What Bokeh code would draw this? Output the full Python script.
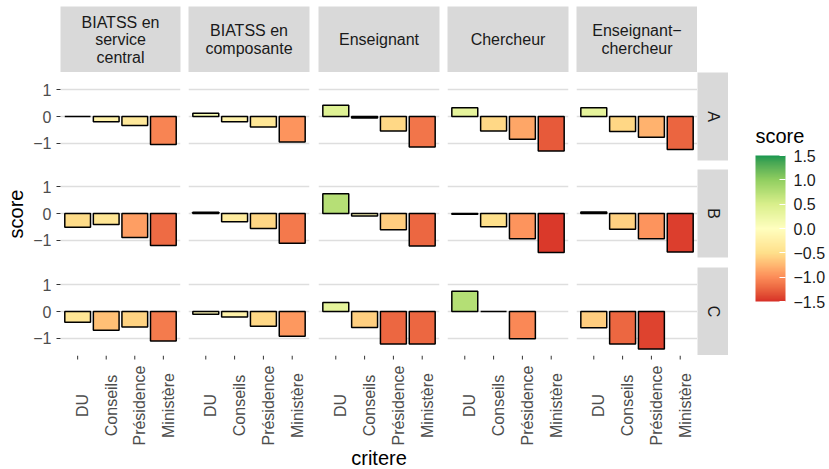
import math
from bokeh.plotting import figure
from bokeh.models import (GridBox, Range1d, FixedTicker, LinearColorMapper, ColorBar,
                          ColumnDataSource, LinearAxis, Grid)
from bokeh.core.properties import value
from bokeh.embed import file_html
from bokeh.resources import INLINE

# ---------------- data ----------------
profiles = ["BIATSS en service central", "BIATSS en composante", "Enseignant",
            "Chercheur", "Enseignant-chercheur"]
strip_labels = ["BIATSS en\nservice\ncentral", "BIATSS en\ncomposante", "Enseignant",
                "Chercheur", "Enseignant\u2212\nchercheur"]
groups = ["A", "B", "C"]
criteres = ["DU", "Conseils", "Présidence", "Ministère"]

# scores per profile (rows of each list follow `profiles`, columns follow `criteres`)
score_A = [[0.00, -0.20, -0.34, -1.05],
           [0.12, -0.20, -0.39, -0.96],
           [0.42, -0.06, -0.54, -1.14],
           [0.33, -0.54, -0.85, -1.29],
           [0.33, -0.56, -0.78, -1.24]]
score_B = [[-0.52, -0.41, -0.90, -1.20],
           [0.05, -0.31, -0.56, -1.12],
           [0.74, -0.09, -0.61, -1.22],
           [-0.03, -0.50, -0.95, -1.46],
           [0.06, -0.59, -0.95, -1.44]]
score_C = [[-0.40, -0.70, -0.58, -1.11],
           [-0.10, -0.21, -0.55, -0.93],
           [0.34, -0.60, -1.22, -1.22],
           [0.76, 0.00, -1.02, None],
           [-0.61, -1.22, -1.41, None]]
scores_by_group = [score_A, score_B, score_C]

palette_stops = ["#d73027", "#fc8d59", "#fee08b", "#ffffbf", "#d9ef8b", "#91cf60", "#1a9850"]
score_limits = [-1.5, 1.5]
y_ticks = [-1, 0, 1]
y_tick_labels = ["\u22121", "0", "1"]
legend_ticks = [-1.5, -1.0, -0.5, 0.0, 0.5, 1.0, 1.5]
legend_tick_labels = ["\u22121.5", "\u22121.0", "\u22120.5", "0.0", "0.5", "1.0", "1.5"]

# ---------------- colour ramp (Lab interpolation, like ggplot) ----------------
Xn, Yn, Zn = 0.95047, 1.0, 1.08883
def _lin(c):
    return c / 12.92 if c <= 0.04045 else ((c + 0.055) / 1.055) ** 2.4
def _gam(c):
    return 12.92 * c if c <= 0.0031308 else 1.055 * c ** (1 / 2.4) - 0.055
def _f(t):
    return t ** (1 / 3) if t > (6 / 29) ** 3 else t / (3 * (6 / 29) ** 2) + 4 / 29
def _finv(t):
    return t ** 3 if t > 6 / 29 else 3 * (6 / 29) ** 2 * (t - 4 / 29)
def to_lab(h):
    r, g, b = [_lin(int(h[i:i + 2], 16) / 255) for i in (1, 3, 5)]
    X = 0.4124 * r + 0.3576 * g + 0.1805 * b
    Y = 0.2126 * r + 0.7152 * g + 0.0722 * b
    Z = 0.0193 * r + 0.1192 * g + 0.9505 * b
    fx, fy, fz = _f(X / Xn), _f(Y / Yn), _f(Z / Zn)
    return (116 * fy - 16, 500 * (fx - fy), 200 * (fy - fz))
def from_lab(L, a, b):
    fy = (L + 16) / 116
    fx = fy + a / 500
    fz = fy - b / 200
    X, Y, Z = Xn * _finv(fx), Yn * _finv(fy), Zn * _finv(fz)
    r = 3.2406 * X - 1.5372 * Y - 0.4986 * Z
    g = -0.9689 * X + 1.8758 * Y + 0.0415 * Z
    bb = 0.0557 * X - 0.2040 * Y + 1.0570 * Z
    conv = lambda c: min(1.0, max(0.0, _gam(min(1.0, max(0.0, c)))))
    return "#%02x%02x%02x" % tuple(int(round(conv(c) * 255)) for c in (r, g, bb))

labs = [to_lab(c) for c in palette_stops]
palette = []
N = 256
for k in range(N):
    s = k / (N - 1) * (len(labs) - 1)
    i = min(int(s), len(labs) - 2)
    u = s - i
    L = [labs[i][j] + (labs[i + 1][j] - labs[i][j]) * u for j in range(3)]
    palette.append(from_lab(*L))
mapper = LinearColorMapper(palette=palette, low=score_limits[0], high=score_limits[1])

# ---------------- layout constants ----------------
FONT_NAME = "Liberation Sans"
FONT = value(FONT_NAME)
FRAME_W = 121
PANEL_H = 88
row_gap = [9, 10, 0]
STRIP_TOP = 6
STRIP_H = 66
RSTRIP_W = 31
XLAB_H = 92
TITLE_H = 20
LEFT0 = 30
col_left = [29, 0, 0, 0, 0]
col_right = [8, 9, 8, 8, 0]
LEG_W = 99
STRIP_BG = "#D9D9D9"
BAR_X, BAR_W, BAR_H = 27, 30, 146

def base_fig(width, height, xr, yr, left=0, right=0, top=0, bottom=0, bg="white"):
    p = figure(width=width, height=height, x_range=xr, y_range=yr,
               toolbar_location=None, output_backend="svg",
               x_axis_location=None, y_axis_location=None,
               min_border=0, min_border_left=left, min_border_right=right,
               min_border_top=top, min_border_bottom=bottom)
    p.grid.visible = False
    p.outline_line_color = None
    p.background_fill_color = bg
    p.border_fill_color = "white"
    return p

children = []
x_pos = [i + 1 for i in range(len(criteres))]

# top strips
for c, lab in enumerate(strip_labels):
    w = col_left[c] + FRAME_W + col_right[c]
    p = base_fig(w, STRIP_TOP + STRIP_H, Range1d(0, 1), Range1d(0, STRIP_H),
                 left=col_left[c], right=col_right[c], top=STRIP_TOP, bg=STRIP_BG)
    lines = lab.split("\n")
    n = len(lines)
    ys = [STRIP_H / 2 + ((n - 1) / 2 - i) * 17.5 for i in range(n)]
    p.text(x=[0.5] * n, y=ys, text=lines, text_font=FONT, text_font_size="16px",
           text_color="#1A1A1A", text_align="center", text_baseline="middle")
    children.append((p, 0, c + 1))

# panels
for r, g in enumerate(groups):
    h = PANEL_H + row_gap[r]
    for c in range(len(profiles)):
        w = col_left[c] + FRAME_W + col_right[c]
        p = base_fig(w, h, Range1d(0.4, 4.6), Range1d(-1.65, 1.65),
                     left=col_left[c], right=col_right[c], bottom=row_gap[r])
        p.add_layout(Grid(dimension=1, ticker=FixedTicker(ticks=y_ticks),
                          grid_line_color="#DEDEDE", grid_line_width=1.3))
        if c == 0:
            ax = LinearAxis(ticker=FixedTicker(ticks=y_ticks),
                            major_label_overrides={t: l for t, l in zip(y_ticks, y_tick_labels)})
            ax.axis_line_color = None
            ax.major_tick_out = 4
            ax.major_tick_in = 0
            ax.major_tick_line_color = "#333333"
            ax.minor_tick_line_color = None
            ax.major_label_standoff = 5
            ax.major_label_text_font = FONT_NAME
            ax.major_label_text_font_size = "16px"
            ax.major_label_text_color = "#4D4D4D"
            p.add_layout(ax, "left")
        vals = scores_by_group[r][c]
        xs = [x for x, v in zip(x_pos, vals) if v is not None]
        vs = [v for v in vals if v is not None]
        src = ColumnDataSource(dict(x=xs, score=vs))
        p.vbar(x="x", top="score", bottom=0, width=0.9, source=src,
               fill_color={"field": "score", "transform": mapper},
               line_color="black", line_width=1.5)
        children.append((p, r + 1, c + 1))
    # right strip
    rs = base_fig(RSTRIP_W, h, Range1d(0, 1), Range1d(0, 1),
                  bottom=row_gap[r], bg=STRIP_BG)
    rs.text(x=[0.5], y=[0.5], text=[g], angle=-math.pi / 2, text_font=FONT,
            text_font_size="16px", text_color="#1A1A1A",
            text_align="center", text_baseline="middle")
    children.append((rs, r + 1, 6))

# x tick marks and labels
for c in range(len(profiles)):
    w = col_left[c] + FRAME_W + col_right[c]
    p = base_fig(w, XLAB_H, Range1d(0.4, 4.6), Range1d(0, XLAB_H),
                 left=col_left[c], right=col_right[c])
    src = ColumnDataSource(dict(x=x_pos, label=criteres))
    p.segment(x0="x", y0=XLAB_H, x1="x", y1=XLAB_H - 4, source=src,
              line_color="#333333", line_width=1)
    p.text(x="x", y=XLAB_H - 50, text="label", source=src, angle=math.pi / 2,
           x_offset=5, text_font=FONT, text_font_size="16px", text_color="#4D4D4D",
           text_align="center", text_baseline="middle")
    children.append((p, 4, c + 1))

# x title
tot_w = sum(col_left[c] + FRAME_W + col_right[c] for c in range(len(profiles)))
pt = base_fig(tot_w, TITLE_H, Range1d(0, 1), Range1d(0, 1), left=col_left[0])
pt.text(x=[0.5], y=[0.5], text=["critere"], text_font=FONT, text_font_size="20px",
        text_color="black", text_align="center", text_baseline="middle")
children.append((pt, 5, 1, 1, 5))

# y title
panels_h = 3 * PANEL_H + sum(row_gap)
py = base_fig(LEFT0, panels_h, Range1d(0, 1), Range1d(0, 1))
py.text(x=[0.5], y=[0.5], text=["score"], angle=math.pi / 2,
        text_font=FONT, text_font_size="20px", text_color="black",
        text_align="center", text_baseline="middle")
children.append((py, 1, 0, 3, 1))

# legend (colour bar + title)
bar_bottom = panels_h - (301 - 72)
pl = base_fig(LEG_W, panels_h, Range1d(0, LEG_W), Range1d(0, panels_h))
pl.text(x=[BAR_X], y=[panels_h - (135 - 72)], text=["score"], text_font=FONT,
        text_font_size="20px", text_color="black", text_align="left",
        text_baseline="middle")
cb = ColorBar(color_mapper=mapper, ticker=FixedTicker(ticks=legend_ticks),
              major_label_overrides={t: l for t, l in zip(legend_ticks, legend_tick_labels)},
              orientation="vertical", title=None,
              width=BAR_W, height=BAR_H, padding=0, location=(BAR_X, bar_bottom),
              major_label_text_font=FONT_NAME, major_label_text_font_size="16px",
              major_label_text_color="#1A1A1A", label_standoff=8,
              major_tick_line_color="white", major_tick_in=6, major_tick_out=0,
              minor_tick_line_color=None, bar_line_color=None,
              background_fill_color=None, border_line_color=None)
pl.add_layout(cb, "center")
# white tick marks on the left edge of the bar (ggplot draws them on both sides)
tick_y = [bar_bottom + (t - score_limits[0]) / (score_limits[1] - score_limits[0]) * BAR_H
          for t in legend_ticks]
pl.segment(x0=[BAR_X] * len(tick_y), y0=tick_y, x1=[BAR_X + 6] * len(tick_y), y1=tick_y,
           line_color="white", line_width=1)
children.append((pl, 1, 7, 3, 1))

layout = GridBox(children=children, spacing=0)

with open("out.html", "w") as fh:
    fh.write(file_html(layout, INLINE))
